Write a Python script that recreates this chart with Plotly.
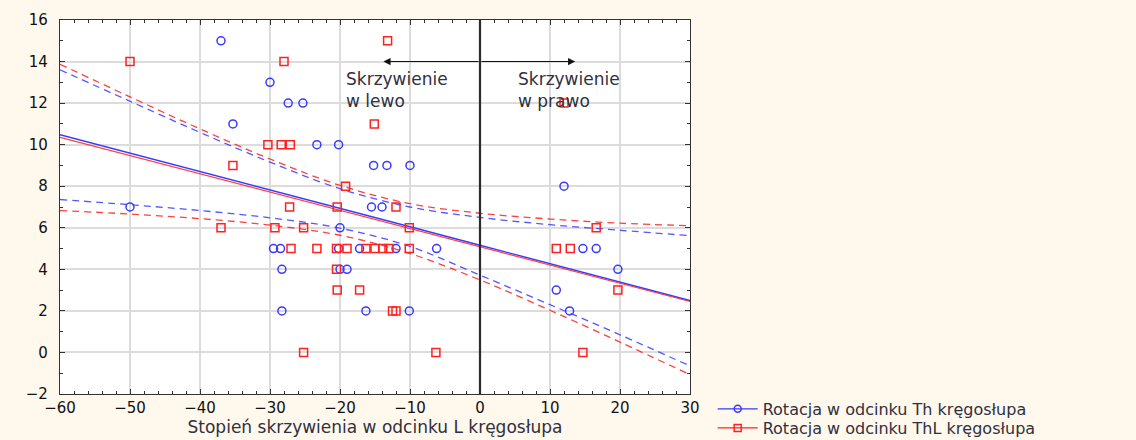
import plotly.graph_objects as go

# ---- data ----
th_x = [-37, -30, -27.4, -25.3, -35.3, -23.3, -20.2, -15.2, -13.3, -10, -50, -15.5, -14,
        -20, -29.5, -28.5, -20.2, -17.2, -12, -6.2, -28.3, -20, -19, -28.3, -16.3, -10.1,
        12, 14.7, 16.6, 19.7, 10.9, 12.8]
th_y = [15, 13, 12, 12, 11, 10, 10, 9, 9, 9, 7, 7, 7,
        6, 5, 5, 5, 5, 5, 5, 4, 4, 4, 2, 2, 2,
        8, 5, 5, 4, 3, 2]

thl_x = [-50, -28, -13.2, -15.1, -30.3, -28.4, -27.1, -35.3, -19.2, -27.2, -20.4, -12,
         -37, -29.3, -25.2, -10.1, -27, -23.3, -20.5, -19, -16.3, -15, -13.9, -13, -10.1,
         -20.5, -20.4, -17.2, -12.5, -12, -25.2, -6.3,
         12, 16.6, 10.9, 12.9, 19.7, 14.7]
thl_y = [14, 14, 15, 11, 10, 10, 10, 9, 8, 7, 7, 7,
         6, 6, 6, 6, 5, 5, 5, 5, 5, 5, 5, 5, 5,
         4, 3, 3, 2, 2, 0, 0,
         12, 6, 5, 5, 3, 0]

fit_x = [-60, -50, -40, -30, -20, -10, 0, 10, 20, 30]
th_fit = [10.48, 9.6, 8.71, 7.82, 6.93, 6.05, 5.16, 4.27, 3.39, 2.5]
th_upper = [13.6, 12.09, 10.59, 9.16, 7.88, 7.0, 6.5, 6.15, 5.88, 5.62]
th_lower = [7.36, 7.11, 6.83, 6.48, 5.98, 5.1, 3.72, 2.3, 0.85, -0.65]
thl_fit = [10.35, 9.47, 8.59, 7.72, 6.84, 5.96, 5.08, 4.2, 3.33, 2.45]
thl_upper = [13.87, 12.3, 10.76, 9.31, 8.04, 7.16, 6.7, 6.42, 6.22, 6.1]
thl_lower = [6.83, 6.66, 6.44, 6.13, 5.64, 4.76, 3.49, 2.03, 0.5, -1.07]

x_ticks = [-60, -50, -40, -30, -20, -10, 0, 10, 20, 30]
y_ticks = [-2, 0, 2, 4, 6, 8, 10, 12, 14, 16]

name_th = "Rotacja w odcinku Th kręgosłupa"
name_thl = "Rotacja w odcinku ThL kręgosłupa"
x_title = "Stopień skrzywienia w odcinku L kręgosłupa"

BLUE = "#3a3aff"
RED = "#ff2020"
FONT = "DejaVu Sans, Liberation Sans, sans-serif"
TXT = "#303040"

fig = go.Figure()

# confidence bands
for ys, col in [(th_upper, BLUE), (th_lower, BLUE), (thl_upper, RED), (thl_lower, RED)]:
    fig.add_trace(go.Scatter(x=fit_x, y=ys, mode="lines", line_shape="spline",
                             line=dict(color=col, width=1.3, dash="7px,5px"),
                             opacity=0.85, showlegend=False, hoverinfo="skip"))

# regression lines
fig.add_trace(go.Scatter(x=fit_x, y=th_fit, mode="lines",
                         line=dict(color=BLUE, width=1.4), showlegend=False))
fig.add_trace(go.Scatter(x=fit_x, y=thl_fit, mode="lines",
                         line=dict(color=RED, width=1.2), opacity=0.85, showlegend=False))

# points
fig.add_trace(go.Scatter(x=th_x, y=th_y, mode="markers",
                         marker=dict(symbol="circle-open", size=8, color=BLUE,
                                     line=dict(width=1.5, color=BLUE)),
                         showlegend=False))
fig.add_trace(go.Scatter(x=thl_x, y=thl_y, mode="markers",
                         marker=dict(symbol="square-open", size=8, color=RED,
                                     line=dict(width=1.5, color=RED)),
                         showlegend=False))

# legend entries (two independent legends so the rows can sit close together)
fig.add_trace(go.Scatter(x=[None], y=[None], mode="lines+markers", name=name_th,
                         legend="legend",
                         line=dict(color=BLUE, width=1.2),
                         marker=dict(symbol="circle-open", size=7, color=BLUE,
                                     line=dict(width=1.5, color=BLUE))))
fig.add_trace(go.Scatter(x=[None], y=[None], mode="lines+markers", name=name_thl,
                         legend="legend2",
                         line=dict(color=RED, width=1.2),
                         marker=dict(symbol="square-open", size=7, color=RED,
                                     line=dict(width=1.5, color=RED))))

fig.add_vline(x=0, line=dict(color="#2b2b2b", width=2.2))

# arrows
for tip in (-13.8, 13.6):
    fig.add_annotation(x=tip, y=14, ax=0, ay=14, axref="x", ayref="y", xref="x", yref="y",
                       text="", showarrow=True, arrowhead=2, arrowsize=1.3,
                       arrowwidth=1.1, arrowcolor="#111")

fig.add_annotation(x=-19.4, y=12.65, xref="x", yref="y", xanchor="left", yanchor="middle",
                   text="Skrzywienie<br>w lewo", showarrow=False, align="left",
                   font=dict(family=FONT, size=17, color=TXT))
fig.add_annotation(x=5.2, y=12.65, xref="x", yref="y", xanchor="left", yanchor="middle",
                   text="Skrzywienie<br>w prawo", showarrow=False, align="left",
                   font=dict(family=FONT, size=17, color=TXT))

axis_common = dict(showgrid=True, gridcolor="#dcdcdc", gridwidth=1.5,
                   showline=True, linecolor="#333", linewidth=1.2, mirror="ticks",
                   ticks="inside", ticklen=5, tickcolor="#333", zeroline=False,
                   tickfont=dict(family=FONT, size=15, color="#111"))

fig.update_xaxes(range=[-60, 30], tickvals=x_ticks, **axis_common,
                 minor=dict(ticks="inside", dtick=2, ticklen=3, tickcolor="#333", showgrid=False),
                 title=dict(text=x_title, standoff=3,
                            font=dict(family=FONT, size=17, color=TXT)))
fig.update_yaxes(range=[-2, 16], tickvals=y_ticks, **axis_common, ticklabelstandoff=8,
                 minor=dict(ticks="inside", dtick=1, ticklen=3, tickcolor="#333", showgrid=False))

legend_common = dict(x=1.036, xanchor="left", yanchor="middle",
                     bgcolor="rgba(0,0,0,0)", font=dict(family=FONT, size=16, color=TXT),
                     itemwidth=40)

fig.update_layout(
    width=1136, height=440,
    margin=dict(l=60, r=446, t=20, b=46, autoexpand=False),
    paper_bgcolor="#fff8ec", plot_bgcolor="white",
    font=dict(family=FONT, size=15, color="#222"),
    legend=dict(y=-0.040, **legend_common),
    legend2=dict(y=-0.091, **legend_common),
)

fig.write_html("out.html")
